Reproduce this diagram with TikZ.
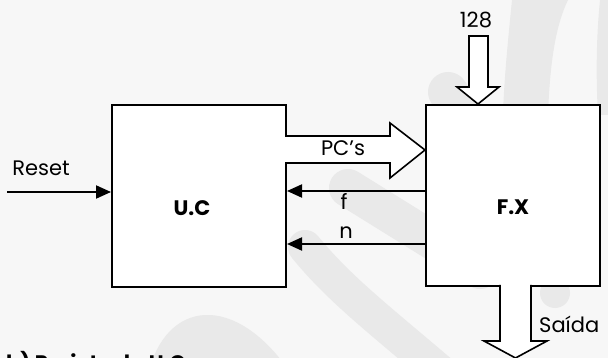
\documentclass[tikz,border=0pt]{standalone}
\usepackage{fontspec}
\setmainfont{Poppins}
\usetikzlibrary{arrows.meta,calc}
\definecolor{bg}{HTML}{F7F7F7}
\definecolor{wm}{HTML}{E9E9E9}
\begin{document}
\begin{tikzpicture}[x=1pt,y=-1pt,
  box/.style={draw,line width=2pt,fill=white,inner sep=0pt},
  sig/.style={line width=2pt,-{Triangle[length=15pt,width=13pt]}},
  blk/.style={draw,line width=1.6pt,fill=white,line join=miter},
  wmark/.style={draw=wm,line cap=round},
  lbl/.style={font=\fontsize{21}{21}\selectfont,inner sep=0pt},
  blbl/.style={font=\fontsize{21}{21}\selectfont\bfseries,inner sep=0pt}]
\fill[bg] (0,0) rectangle (608,358);
\useasboundingbox (0,0) rectangle (608,358);
\clip (0,0) rectangle (608,358);
% faint watermark
\fill[wm] (148,375) .. controls (165,300) and (235,290) .. (292,375) -- cycle;
\draw[wmark,line width=34pt] (305,247) .. controls (340,290) and (380,320) .. (450,380);
\draw[wmark,line width=38pt] (348,188) -- (480,270);
\draw[wmark,line width=40pt] (448,92) -- (520,200);
\fill[wm] (555,293) circle (15pt);
\fill[wm] (512,0) .. controls (508,40) and (504,80) .. (503,115) -- (548,115) .. controls (550,60) and (556,25) .. (568,0) -- cycle;
\fill[wm] (600,0) .. controls (596,40) and (596,80) .. (598,115) -- (608,115) -- (608,0) -- cycle;
% boxes
\node[box,minimum width=174pt,minimum height=182pt,anchor=north west] (uc) at (111,104) {};
\node[box,minimum width=174pt,minimum height=181pt,anchor=north west] (fx) at (425,104) {};
\node[blbl] (uct) at ($(uc.center)+(-7,12)$) {U.C};
\node[blbl] (fxt) at ($(fx.center)+(0,12)$) {F.X};
% block arrows
\filldraw[blk] (285,136) -- (390,136) -- (390,123) -- (fx.west |- 0,150) -- (390,178) -- (390,163) -- (285,163);
\filldraw[blk] (469,36) -- (469,87) -- (457,87) -- (478,0 |- fx.north) -- (499,87) -- (488,87) -- (488,36) -- cycle;
\filldraw[blk] (500,285) -- (500,341) -- (484,341) -- (515.5,358) -- (547,341) -- (531,341) -- (531,285);
% signals
\coordinate (rs) at (7,192);
\coordinate (fy) at (0,191);
\coordinate (ny) at (0,244);
\draw[sig] (rs) -- (uc.west |- rs);
\draw[sig] (fx.west |- fy) -- (uc.east |- fy);
\draw[sig] (fx.west |- ny) -- (uc.east |- ny);
% labels
\node[lbl] (reset) at (41,168) {Reset};
\node[lbl] (pcs) at (343,148) {PC's};
\node[lbl] (f) at (344,201) {f};
\node[lbl] (n) at (346,233) {n};
\node[lbl] (n128) at (476,20) {128};
\node[lbl,anchor=west] (saida) at (539,324) {Saída};
\node[blbl,anchor=base west] (cap) at (6,370) {b) Projeto da U.C};
\end{tikzpicture}
\end{document}
